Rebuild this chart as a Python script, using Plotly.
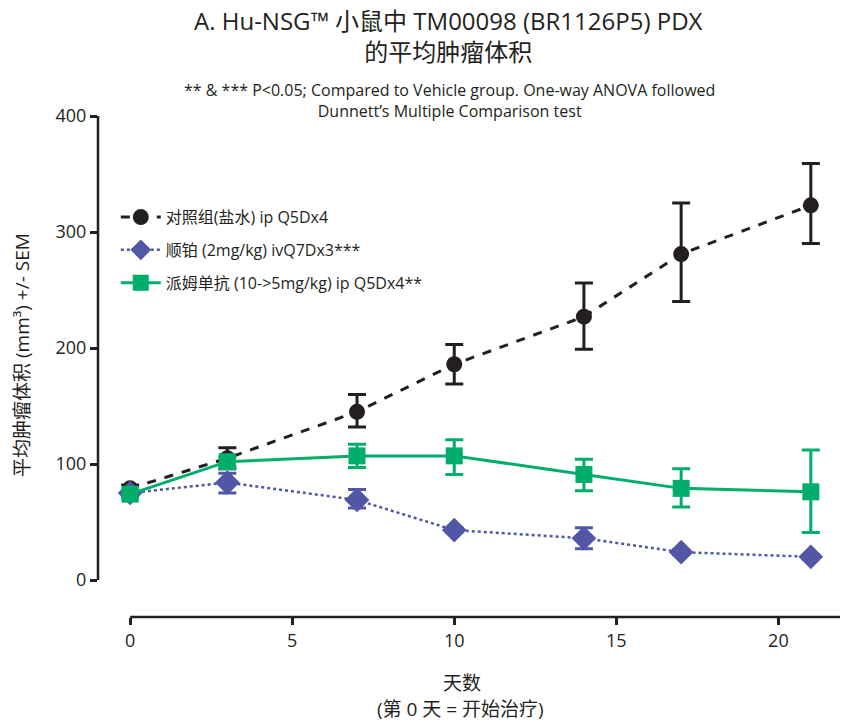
import plotly.graph_objects as go

days = [0, 3, 7, 10, 14, 17, 21]

control_mean = [79, 105, 145, 186, 227, 281, 323]
control_up = [3, 9, 15, 17, 29, 44, 36]
control_down = [3, 9, 13, 17, 28, 41, 33]

cis_days = [0, 3, 7, 10, 14, 17, 21]
cis_mean = [75, 84, 69, 43, 36, 24, 20]
cis_up = [2, 8, 9, 2, 9, 2, 2]
cis_down = [2, 9, 7, 2, 9, 2, 2]

pem_mean = [74, 102, 107, 107, 91, 79, 76]
pem_up = [3, 4, 10, 14, 13, 17, 36]
pem_down = [3, 4, 10, 16, 14, 16, 35]

names = ["对照组(盐水) ip Q5Dx4", "顺铂 (2mg/kg) ivQ7Dx3***", "派姆单抗 (10->5mg/kg) ip Q5Dx4**"]

xticks = [0, 5, 10, 15, 20]
yticks = [0, 100, 200, 300, 400]

BLACK = "#231f20"
BLUE = "#5157a5"
GREEN = "#00ae6b"
FONT = "'Open Sans', 'Noto Sans CJK SC', sans-serif"

fig = go.Figure()

fig.add_trace(go.Scatter(
    x=days, y=control_mean, name=names[0], mode="lines+markers", legendgroup="a",
    line=dict(color=BLACK, width=3, dash="dash"),
    marker=dict(symbol="circle", size=16, color=BLACK),
    error_y=dict(type="data", symmetric=False, array=control_up, arrayminus=control_down,
                 color=BLACK, thickness=3, width=9),
))
fig.add_trace(go.Scatter(
    x=cis_days, y=cis_mean, name=names[1], mode="lines+markers", legendgroup="b",
    line=dict(color=BLUE, width=2.5, dash="dot"),
    marker=dict(symbol="diamond", size=19, color=BLUE),
    error_y=dict(type="data", symmetric=False, array=cis_up, arrayminus=cis_down,
                 color=BLUE, thickness=3, width=9),
))
fig.add_trace(go.Scatter(
    x=days, y=pem_mean, name=names[2], mode="lines+markers", legendgroup="c",
    line=dict(color=GREEN, width=3),
    marker=dict(symbol="square", size=17, color=GREEN),
    error_y=dict(type="data", symmetric=False, array=pem_up, arrayminus=pem_down,
                 color=GREEN, thickness=3, width=9),
))

# Detached axis lines
fig.add_shape(type="line", xref="paper", yref="y", x0=0, x1=0, y0=yticks[0], y1=yticks[-1],
              line=dict(color=BLACK, width=2.5))
fig.add_shape(type="line", xref="x", yref="paper", x0=xticks[0], x1=21.9, y0=0, y1=0,
              line=dict(color=BLACK, width=2.5))

fig.update_layout(
    width=843, height=723,
    margin=dict(l=98, r=3, t=116, b=106),
    paper_bgcolor="white", plot_bgcolor="white",
    font=dict(family=FONT, size=14, color=BLACK),
    showlegend=True,
    legend=dict(x=0.024, y=0.832, xanchor="left", yanchor="top",
                bgcolor="rgba(0,0,0,0)", font=dict(size=16, family=FONT, color=BLACK),
                itemwidth=40, tracegroupgap=9),
    xaxis=dict(range=[-0.99, 21.9], tickvals=xticks, ticks="outside", ticklen=7, tickwidth=2.5,
               tickcolor=BLACK, showgrid=False, zeroline=False, showline=False,
               tickfont=dict(size=18, family=FONT, color=BLACK)),
    yaxis=dict(range=[-31.9, 400], tickvals=yticks, ticks="outside", ticklen=7, tickwidth=2.5,
               tickcolor=BLACK, showgrid=False, zeroline=False, showline=False,
               tickfont=dict(size=18, family=FONT, color=BLACK)),
    annotations=[
        dict(text="A. Hu-NSG™ 小鼠中 TM00098 (BR1126P5) PDX<br>的平均肿瘤体积",
             xref="paper", yref="paper", x=(448 - 98) / 742, y=(617 - 36) / 501,
             xanchor="center", yanchor="middle", showarrow=False,
             font=dict(size=24, family=FONT, color=BLACK)),
        dict(text="** & *** P<0.05; Compared to Vehicle group. One-way ANOVA followed<br>Dunnett’s Multiple Comparison test",
             xref="paper", yref="paper", x=(449 - 98) / 742, y=(617 - 100) / 501,
             xanchor="center", yanchor="middle", showarrow=False,
             font=dict(size=16, family=FONT, color=BLACK)),
        dict(text="平均肿瘤体积 (mm³) +/- SEM", xref="paper", yref="paper",
             x=(22 - 98) / 742, y=(617 - 355) / 501, textangle=-90,
             xanchor="center", yanchor="middle", showarrow=False,
             font=dict(size=19, family=FONT, color=BLACK)),
        dict(text="天数", xref="paper", yref="paper",
             x=(462 - 98) / 742, y=(617 - 683) / 501,
             xanchor="center", yanchor="middle", showarrow=False,
             font=dict(size=19, family=FONT, color=BLACK)),
        dict(text="(第 0 天 = 开始治疗)", xref="paper", yref="paper",
             x=(460 - 98) / 742, y=(617 - 709) / 501,
             xanchor="center", yanchor="middle", showarrow=False,
             font=dict(size=19, family=FONT, color=BLACK)),
    ],
)

fig.write_html("out.html", config={"displayModeBar": False},
               post_script="document.body.style.margin='0';document.body.style.padding='0';")
